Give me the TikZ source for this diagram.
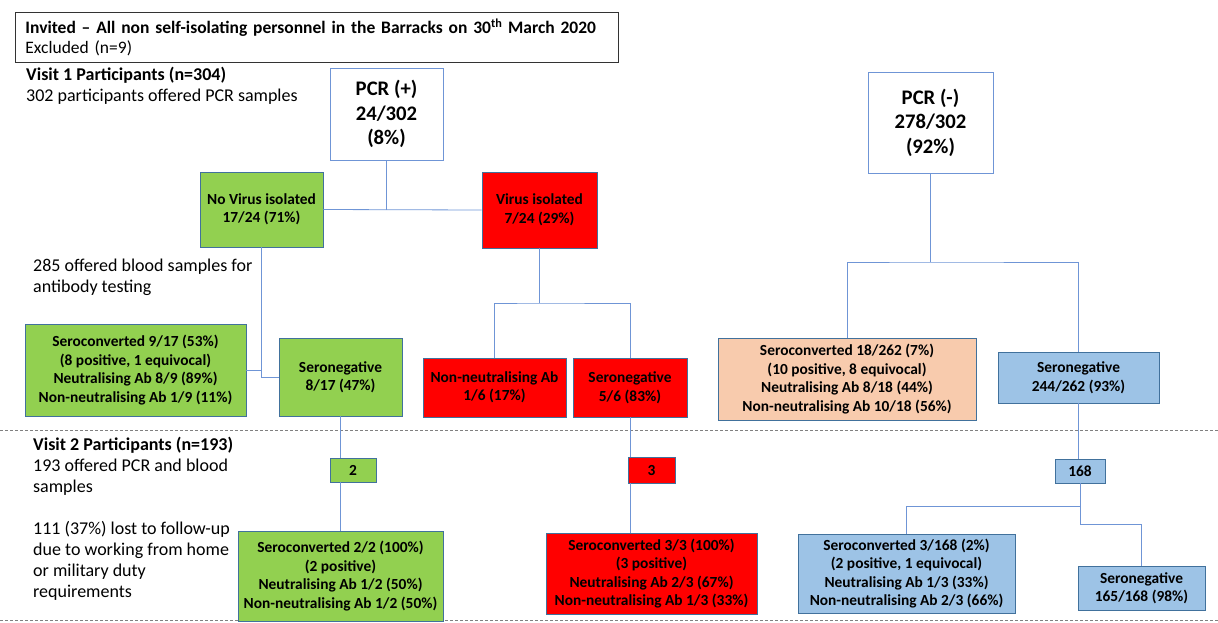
\documentclass[tikz,border=0pt]{standalone}
\usepackage{fontspec}
\setmainfont{Carlito}
\definecolor{gfill}{HTML}{92D050}
\definecolor{rfill}{HTML}{FF0000}
\definecolor{pfill}{HTML}{F8CBAD}
\definecolor{bfill}{HTML}{9DC3E6}
\definecolor{bord}{HTML}{41719C}
\definecolor{conn}{HTML}{6F95D6}
\definecolor{dashc}{HTML}{808080}
\begin{document}
\begin{tikzpicture}[x=1pt,y=-1pt,
  box/.style={draw=bord, line width=0.8pt, align=center, inner sep=0pt,
    font=\bfseries\fontsize{15.4}{18.5}\selectfont},
  gbox/.style={box, fill=gfill},
  rbox/.style={box, fill=rfill},
  pbox/.style={box, fill=pfill},
  bbox/.style={box, fill=bfill},
  pcrbox/.style={draw=conn, line width=0.9pt, fill=white, align=center, inner sep=0pt,
    font=\bfseries\fontsize{20.7}{24.5}\selectfont},
  sidetext/.style={anchor=north west, align=left, inner sep=0pt,
    font=\fontsize{18}{21}\selectfont},
  link/.style={draw=conn, line width=0.8pt},
  sep/.style={draw=dashc, line width=0.9pt, dash pattern=on 3pt off 2pt}
]
\useasboundingbox (0,0) rectangle (1218,622);

% header
\node[draw=black!80, line width=0.9pt, anchor=north west, minimum width=603, minimum height=50,
  text width=583, inner xsep=10, inner ysep=0, align=left,
  font=\fontsize{17.5}{20}\selectfont] (hdr) at (15,12)
  {\textbf{Invited -- All non self-isolating personnel in the Barracks on 30\textsuperscript{th} March 2020}\\Excluded (n=9)};

% side texts
\node[sidetext] (v1) at (26,67) {\textbf{Visit 1 Participants (n=304)}\\302 participants offered PCR samples};
\node[sidetext] (blood) at (33,259) {285 offered blood samples for\\antibody testing};
\node[sidetext] (v2) at (33,437) {\textbf{Visit 2 Participants (n=193)}\\193 offered PCR and blood\\samples\\[21pt]111 (37\%) lost to follow-up\\due to working from home\\or military duty\\requirements};

% dashed separators
\coordinate (d1l) at (0,430);
\coordinate (d1r) at (1218,430);
\coordinate (d2l) at (0,620);
\coordinate (d2r) at (1218,620);
\draw[sep] (d1l) -- (d1r);
\draw[sep] (d2l) -- (d2r);

% PCR boxes
\node[pcrbox, minimum width=113, minimum height=92] (pcrp) at (386.5,114) {PCR (+)\\24/302\\(8\%)};
\node[pcrbox, minimum width=125, minimum height=101] (pcrm) at (930.5,122.5) {PCR (-)\\278/302\\(92\%)};

% visit 1 boxes
\node[gbox, minimum width=123, minimum height=75] (novir) at (261.5,209.5) {No Virus isolated\\17/24 (71\%)};
\node[rbox, minimum width=115, minimum height=76] (vir) at (539.5,210) {Virus isolated\\7/24 (29\%)};
\node[gbox, minimum width=221, minimum height=92] (gsero) at (135.5,370) {Seroconverted 9/17 (53\%)\\(8 positive, 1 equivocal)\\Neutralising Ab 8/9 (89\%)\\Non-neutralising Ab 1/9 (11\%)};
\node[gbox, minimum width=123, minimum height=78] (gseroneg) at (340.5,377) {Seronegative\\8/17 (47\%)};
\node[rbox, minimum width=143, minimum height=59] (nonneut) at (494.5,387.5) {Non-neutralising Ab\\1/6 (17\%)};
\node[rbox, minimum width=114, minimum height=59] (rseroneg) at (630,387.5) {Seronegative\\5/6 (83\%)};
\node[pbox, minimum width=258, minimum height=82] (psero) at (847,379) {Seroconverted 18/262 (7\%)\\(10 positive, 8 equivocal)\\Neutralising Ab 8/18 (44\%)\\Non-neutralising Ab 10/18 (56\%)};
\node[bbox, minimum width=161, minimum height=51] (bseroneg) at (1078.5,377.5) {Seronegative\\244/262 (93\%)};

% visit 2 boxes
\node[gbox, minimum width=46, minimum height=24] (two) at (353,470) {2};
\node[rbox, minimum width=47, minimum height=26] (three) at (651.5,470) {3};
\node[bbox, minimum width=50, minimum height=24] (n168) at (1080,471) {168};
\node[gbox, minimum width=205, minimum height=90] (g2sero) at (340.5,576) {Seroconverted 2/2 (100\%)\\(2 positive)\\Neutralising Ab 1/2 (50\%)\\Non-neutralising Ab 1/2 (50\%)};
\node[rbox, minimum width=211, minimum height=81] (r2sero) at (651.5,573.5) {Seroconverted 3/3 (100\%)\\(3 positive)\\Neutralising Ab 2/3 (67\%)\\Non-neutralising Ab 1/3 (33\%)};
\node[bbox, minimum width=217, minimum height=79] (b2sero) at (906.5,573.5) {Seroconverted 3/168 (2\%)\\(2 positive, 1 equivocal)\\Neutralising Ab 1/3 (33\%)\\Non-neutralising Ab 2/3 (66\%)};
\node[bbox, minimum width=127, minimum height=44] (b2seroneg) at (1141.5,588) {Seronegative\\165/168 (98\%)};

% connectors
\path[link] (pcrp.south) -- (pcrp.south |- novir.east);
\path[link] (novir.east) -- (vir.west);

\coordinate (mj) at (930.5,262);
\path[link] (pcrm.south) -- (mj);
\path[link] (psero.north) |- (mj) -| (bseroneg.north);

\coordinate (vj) at (539.5,303);
\path[link] (vir.south) -- (vj);
\path[link] (nonneut.north) |- (vj) -| (rseroneg.north);

\path[link] (novir.south) -- (novir.south |- gseroneg.west) -- (gseroneg.west);
\path[link] (gsero.east) -- (gsero.east -| novir.south);

\path[link] (gseroneg.south) -- (gseroneg.south |- two.north);
\path[link] (two.south -| gseroneg.south) -- (g2sero.north);

\path[link] (rseroneg.south) -- (rseroneg.south |- three.north);
\path[link] (three.south -| rseroneg.south) -- (r2sero.north -| rseroneg.south);

\path[link] (bseroneg.south) -- (bseroneg.south |- n168.north);
\coordinate (bj) at (1080,506);
\coordinate (bk) at (1080,524);
\path[link] (n168.south) -- (bj) -- (bk) -| (b2seroneg.north);
\path[link] (b2sero.north) |- (bj);
\end{tikzpicture}
\end{document}
